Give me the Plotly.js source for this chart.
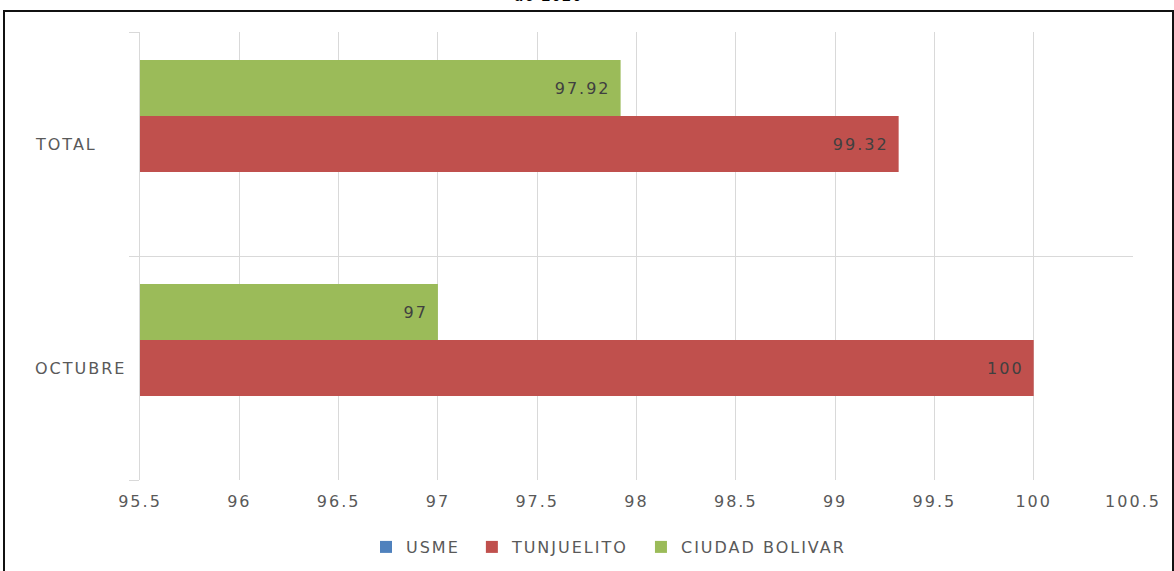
<!DOCTYPE html>
<html>
<head>
<meta charset="utf-8">
<script src="https://cdn.plot.ly/plotly-3.0.1.min.js"></script>
<style>
  html, body { margin: 0; padding: 0; background: #fff; overflow: hidden; }
  #wrap { position: relative; width: 1174px; height: 571px; }
  #chart { position: absolute; left: 0; top: 0; width: 1174px; height: 571px; }
  #frame { position: absolute; left: 3px; top: 10px; width: 1167px; height: 600px;
           border: 2px solid #111; pointer-events: none; }
  text { letter-spacing: 2px; }
</style>
</head>
<body>
<div id="wrap">
  <div id="chart"></div>
  <div id="frame"></div>
</div>
<script>
// Data
const categories = ['OCTUBRE', 'TOTAL'];
const seriesNames = ['USME', 'TUNJUELITO', 'CIUDAD BOLIVAR'];
const usme = [null, null];
const tunjuelito = [100, 99.32];
const ciudadBolivar = [97, 97.92];
const xTicks = [95.5, 96, 96.5, 97, 97.5, 98, 98.5, 99, 99.5, 100, 100.5];
const titleText = 'de 2020';

const colors = ['#4F81BD', '#C0504D', '#9BBB59'];
const values = [usme, tunjuelito, ciudadBolivar];
const FONT = 'DejaVu Sans, Verdana, sans-serif';

const traces = seriesNames.map((name, i) => ({
  type: 'bar',
  orientation: 'h',
  name: name + '\u00a0',
  y: categories,
  x: values[i],
  marker: { color: colors[i] },
  text: values[i].map(v => v == null ? '' : String(v) + '\u00a0'),
  textposition: 'inside',
  insidetextanchor: 'end',
  textfont: { family: FONT, size: 16, color: '#404040' },
  constraintext: 'none',
  hoverinfo: 'x+name'
}));

const W = 1174, H = 571, L = 140, R = 41, T = 32, B = 91;
const pw = W - L - R, ph = H - T - B;

const annotations = categories.map(c => ({
  text: c,
  xref: 'paper', yref: 'y',
  x: (33 - L) / pw, y: c,
  xanchor: 'left', yanchor: 'middle',
  showarrow: false,
  font: { family: FONT, size: 16, color: '#595959' }
}));
annotations.push({
  text: titleText,
  xref: 'paper', yref: 'paper',
  x: (548 - L) / pw, y: 1 + (T - 6) / ph,
  xanchor: 'center', yanchor: 'bottom',
  showarrow: false,
  font: { family: 'Liberation Sans, Arial, sans-serif', size: 15, color: '#000', weight: 'bold' }
});

const layout = {
  width: W, height: H,
  margin: { l: L, r: R, t: T, b: B, pad: 0, autoexpand: false },
  paper_bgcolor: '#ffffff',
  plot_bgcolor: '#ffffff',
  barmode: 'group',
  bargap: 0.25,
  bargroupgap: 0,
  showlegend: true,
  legend: {
    orientation: 'h',
    xref: 'container', yref: 'container',
    x: 612 / W, xanchor: 'center',
    y: 1 - 547 / H, yanchor: 'middle',
    traceorder: 'normal',
    font: { family: FONT, size: 16, color: '#595959' },
    itemwidth: 30,
    itemsizing: 'constant'
  },
  xaxis: {
    range: [95.5, 100.5],
    tickvals: xTicks,
    ticktext: xTicks.map(String),
    showgrid: true,
    gridcolor: '#d9d9d9',
    gridwidth: 1,
    zeroline: false,
    showline: false,
    ticks: '',
    ticklabelstandoff: 10,
    tickfont: { family: FONT, size: 16, color: '#595959' },
    fixedrange: true
  },
  yaxis: {
    type: 'category',
    categoryorder: 'array',
    categoryarray: categories,
    range: [-0.5, 1.5],
    tickson: 'boundaries',
    ticks: 'outside',
    ticklen: 10,
    tickcolor: '#d9d9d9',
    showgrid: true,
    gridcolor: '#d9d9d9',
    showline: true,
    linecolor: '#d9d9d9',
    linewidth: 1,
    showticklabels: false,
    zeroline: false,
    fixedrange: true
  },
  annotations: annotations
};

Plotly.newPlot('chart', traces, layout, { displayModeBar: false, staticPlot: true });
</script>
</body>
</html>
